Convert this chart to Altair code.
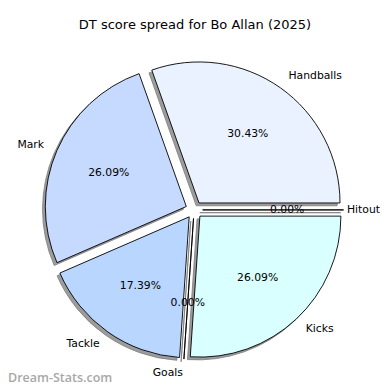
import altair as alt
import pandas as pd

# ---- data ----
categories = ["Handballs", "Mark", "Tackle", "Goals", "Kicks", "Hitout"]
values = [7, 6, 4, 0, 6, 0]
colors = ["#EBF2FF", "#C6D9FF", "#B8D6FF", "#DDE8FF", "#D9FFFF", "#EEF9FF"]
title_text = "DT score spread for Bo Allan (2025)"
watermark = "Dream-Stats.com"

# ---- layout ----
W, H = 374, 378
CX, CY = 186.1, 201.9
R = 141
EXPLODE = 8.5
SHADOW = 2.8
FONT = "DejaVu Sans"
LABEL_MAX_X = W - 35  # keep right-hand labels inside the drawing area

df = pd.DataFrame({"category": categories, "value": values, "order": list(range(len(categories)))})

base = (
    alt.Chart(df)
    .transform_window(cum="sum(value)", sort=[alt.SortField("order")], frame=[None, 0])
    .transform_joinaggregate(total="sum(value)")
    .transform_calculate(
        a1="(datum.cum - datum.value) / datum.total * 2 * PI",
        a2="datum.cum / datum.total * 2 * PI",
    )
    .transform_calculate(
        mid="(datum.a1 + datum.a2) / 2",
        t1="PI / 2 - datum.a2",
        t2="PI / 2 - datum.a1",
        pct="format(datum.value / datum.total * 100, '.2f') + '%'",
    )
    .transform_calculate(
        cx=f"{CX} + {EXPLODE} * cos(datum.mid)",
        cy=f"{CY} - {EXPLODE} * sin(datum.mid)",
        sx=f"{CX} + {EXPLODE} * cos(datum.mid) - {SHADOW}",
        sy=f"{CY} - {EXPLODE} * sin(datum.mid) + {SHADOW}",
        lx=f"min({LABEL_MAX_X}, {CX} + ({EXPLODE} + 1.1 * {R}) * cos(datum.mid))",
        ly=f"{CY} - ({EXPLODE} + 1.1 * {R}) * sin(datum.mid)",
        px=f"{CX} + ({EXPLODE} + 0.6 * {R}) * cos(datum.mid)",
        py=f"{CY} - ({EXPLODE} + 0.6 * {R}) * sin(datum.mid)",
        side="cos(datum.mid) >= 0 ? 'right' : 'left'",
    )
)

shadow = base.mark_arc(radius=R, fill="#9c9c9c", stroke="#7c7c7c", strokeWidth=0.8).encode(
    x=alt.X("sx:Q", scale=None, axis=None),
    y=alt.Y("sy:Q", scale=None, axis=None),
    theta=alt.Theta("t1:Q", scale=None),
    theta2=alt.Theta2("t2:Q"),
)

slices = base.mark_arc(radius=R, stroke="black", strokeWidth=0.9).encode(
    x=alt.X("cx:Q", scale=None, axis=None),
    y=alt.Y("cy:Q", scale=None, axis=None),
    theta=alt.Theta("t1:Q", scale=None),
    theta2=alt.Theta2("t2:Q"),
    color=alt.Color("category:N", scale=alt.Scale(domain=categories, range=colors), legend=None),
)

labels_r = base.transform_filter("datum.side == 'right'").mark_text(
    align="left", baseline="middle", font=FONT, fontSize=10.8, color="black"
).encode(
    x=alt.X("lx:Q", scale=None, axis=None),
    y=alt.Y("ly:Q", scale=None, axis=None),
    text="category:N",
)

labels_l = base.transform_filter("datum.side == 'left'").mark_text(
    align="right", baseline="middle", font=FONT, fontSize=10.8, color="black"
).encode(
    x=alt.X("lx:Q", scale=None, axis=None),
    y=alt.Y("ly:Q", scale=None, axis=None),
    text="category:N",
)

pcts = base.mark_text(align="center", baseline="middle", font=FONT, fontSize=10.8, color="black").encode(
    x=alt.X("px:Q", scale=None, axis=None),
    y=alt.Y("py:Q", scale=None, axis=None),
    text="pct:N",
)

title = alt.Chart(pd.DataFrame({"t": [title_text]})).mark_text(
    align="center", baseline="middle", font=FONT, fontSize=13, color="black"
).encode(x=alt.value(187), y=alt.value(17), text="t:N")

wm = alt.Chart(pd.DataFrame({"t": [watermark]})).mark_text(
    align="left", baseline="middle", font="Open Sans", fontWeight=600, fontSize=12.5, color="#a8a8a8"
).encode(x=alt.value(0), y=alt.value(370), text="t:N")

chart = (
    alt.layer(shadow, slices, labels_r, labels_l, pcts, title, wm)
    .properties(width=W, height=H, padding=0, autosize=alt.AutoSizeParams(type="none"))
    .configure_view(stroke=None)
)

chart.save("out.html", embed_options={"renderer": "svg", "actions": False})
